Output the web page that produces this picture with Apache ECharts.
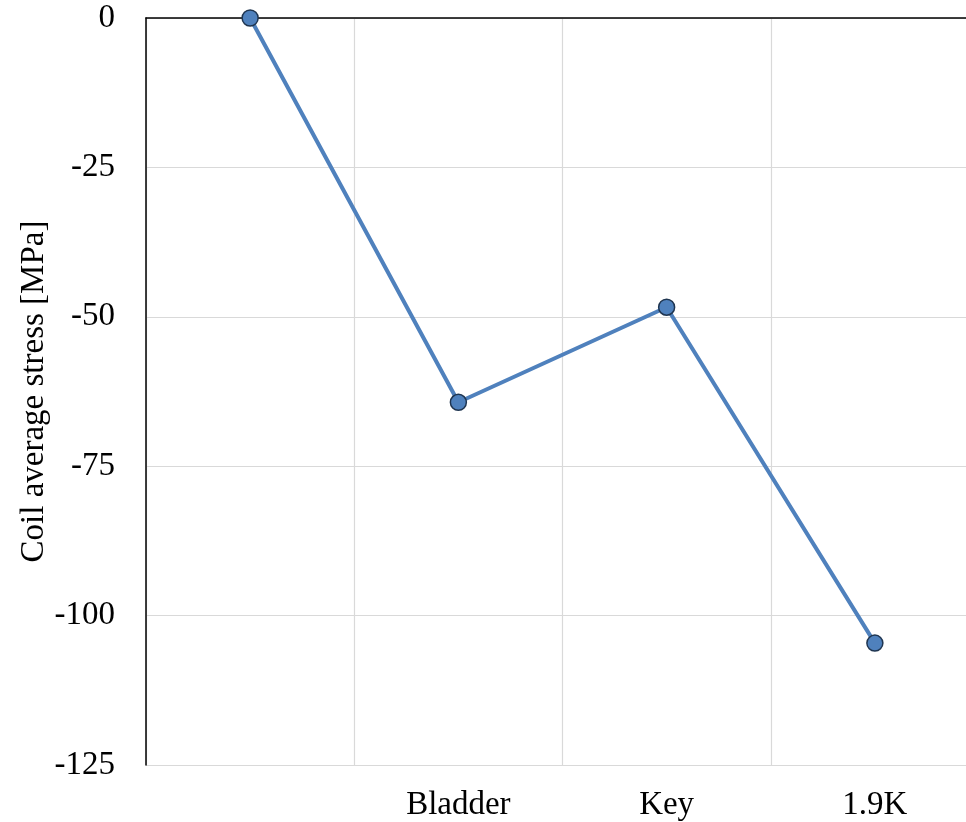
<!DOCTYPE html>
<html>
<head>
<meta charset="utf-8">
<script src="https://cdn.jsdelivr.net/npm/echarts@6/dist/echarts.min.js"></script>
<style>
  html, body { margin: 0; padding: 0; background: #fff; overflow: hidden; }
  /* the plot area runs slightly past the right edge of the page */
  #chart { width: 980px; height: 822px; }
</style>
</head>
<body>
<div id="chart"></div>
<script>
// Loading stages and the average coil stress at each stage
const stages = ["", "Bladder", "Key", "1.9K"];
const coilStress = [0, -64.3, -48.4, -104.6];

const yMin = -125;
const yMax = 0;
const yStep = 25;

const serif = "'Liberation Serif', 'Times New Roman', serif";
const chart = echarts.init(document.getElementById('chart'), null, { renderer: 'canvas' });

chart.setOption({
  backgroundColor: '#ffffff',
  animation: false,
  grid: { left: 146, top: 18, height: 747, width: 833, containLabel: false, outerBoundsMode: 'none' },
  xAxis: [
    {
      type: 'category',
      data: stages,
      boundaryGap: true,
      position: 'bottom',
      axisLine: { show: false },
      axisTick: { show: false },
      axisLabel: { fontFamily: serif, fontSize: 33, color: '#000', margin: 24 },
      splitLine: { show: true, lineStyle: { color: '#d9d9d9', width: 1.2 } }
    },
    {
      type: 'category',
      data: stages,
      position: 'top',
      axisLine: { show: true, lineStyle: { color: '#000', width: 1.5 } },
      axisTick: { show: false },
      axisLabel: { show: false },
      splitLine: { show: false }
    }
  ],
  yAxis: {
    type: 'value',
    min: yMin,
    max: yMax,
    interval: yStep,
    name: 'Coil average stress [MPa]',
    nameLocation: 'middle',
    nameGap: 95,
    nameMoveOverlap: false,
    nameTextStyle: { fontFamily: serif, fontSize: 33, color: '#000' },
    axisLine: { show: true, lineStyle: { color: '#000', width: 1.5 } },
    axisTick: { show: false },
    axisLabel: { fontFamily: serif, fontSize: 33, color: '#000', margin: 31 },
    splitLine: { show: true, lineStyle: { color: '#d9d9d9', width: 1.2 } }
  },
  series: [{
    type: 'line',
    xAxisIndex: 0,
    data: coilStress,
    symbol: 'circle',
    symbolSize: 16,
    lineStyle: { color: '#4f81bd', width: 4 },
    itemStyle: { color: '#4f81bd', borderColor: '#1f3550', borderWidth: 1.5 },
    z: 5
  }]
});
</script>
</body>
</html>
